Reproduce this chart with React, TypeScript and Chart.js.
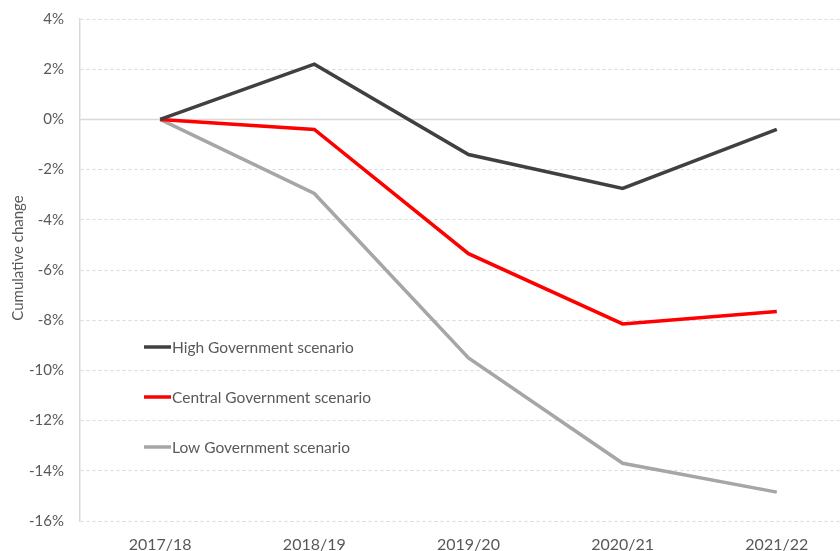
import React, { useEffect, useRef } from "react";
import { Chart, registerables } from "chart.js";

Chart.register(...registerables);

const categories = ["2017/18", "2018/19", "2019/20", "2020/21", "2021/22"];
const seriesLabels = ["High Government scenario", "Central Government scenario", "Low Government scenario"];
const highValues = [0, 2.2, -1.4, -2.75, -0.4];
const centralValues = [0, -0.4, -5.35, -8.15, -7.65];
const lowValues = [0, -2.95, -9.5, -13.7, -14.85];
const yTicks = [4, 2, 0, -2, -4, -6, -8, -10, -12, -14, -16];
const yTitle = "Cumulative change";

const FONT = "Lato, 'Open Sans', sans-serif";
const TEXT = "#595959";
const GRID = "#d9d9d9";

const zeroLinePlugin = {
  id: "zeroLine",
  beforeDatasetsDraw(chart: any) {
    const { ctx, chartArea, scales } = chart;
    const y = Math.round(scales.y.getPixelForValue(0)) + 0.5;
    ctx.save();
    ctx.strokeStyle = GRID;
    ctx.lineWidth = 1.5;
    ctx.setLineDash([]);
    ctx.beginPath();
    ctx.moveTo(chartArea.left, y);
    ctx.lineTo(chartArea.right, y);
    ctx.stroke();
    ctx.restore();
  },
};

const legendPlugin = {
  id: "insideLegend",
  afterDatasetsDraw(chart: any) {
    const { ctx } = chart;
    ctx.save();
    chart.data.datasets.forEach((ds: any, i: number) => {
      const y = 347 + i * 50;
      ctx.strokeStyle = ds.borderColor;
      ctx.lineWidth = 3.5;
      ctx.beginPath();
      ctx.moveTo(144, y);
      ctx.lineTo(171, y);
      ctx.stroke();
      ctx.fillStyle = TEXT;
      ctx.font = `15.5px ${FONT}`;
      ctx.textBaseline = "middle";
      ctx.textAlign = "left";
      ctx.fillText(ds.label, 172, y + 1);
    });
    // y axis title
    ctx.translate(18, 258);
    ctx.rotate(-Math.PI / 2);
    ctx.fillStyle = TEXT;
    ctx.font = `15px ${FONT}`;
    ctx.textAlign = "center";
    ctx.textBaseline = "middle";
    ctx.fillText(yTitle, 0, 0);
    ctx.restore();
  },
};

export default function App() {
  const ref = useRef<HTMLCanvasElement>(null);
  useEffect(() => {
    if (!ref.current) return;
    const toPoints = (vals: number[]) => vals.map((v, i) => ({ x: i, y: v }));
    const chart = new Chart(ref.current, {
      type: "line",
      data: {
        datasets: [
          { label: seriesLabels[0], data: toPoints(highValues), borderColor: "#404040", backgroundColor: "#404040" },
          { label: seriesLabels[1], data: toPoints(centralValues), borderColor: "#ff0000", backgroundColor: "#ff0000" },
          { label: seriesLabels[2], data: toPoints(lowValues), borderColor: "#a6a6a6", backgroundColor: "#a6a6a6" },
        ].map((d) => ({ ...d, borderWidth: 3.5, pointRadius: 0, tension: 0, fill: false })),
      },
      options: {
        animation: false,
        responsive: false,
        maintainAspectRatio: false,
        layout: { padding: { top: 19, right: 0, left: 0, bottom: 0 } },
        plugins: { legend: { display: false }, tooltip: { enabled: false }, title: { display: false } },
        scales: {
          x: {
            type: "linear",
            min: -0.52,
            max: 4.41,
            afterBuildTicks: (scale: any) => {
              scale.ticks = categories.map((_, i) => ({ value: i }));
            },
            afterFit: (scale: any) => {
              scale.height = 30;
              scale.paddingLeft = 0;
              scale.paddingRight = 0;
            },
            ticks: {
              callback: (v: any) => categories[v as number] ?? "",
              color: TEXT,
              font: { family: FONT, size: 16 },
              padding: 14,
              maxRotation: 0,
              autoSkip: false,
            },
            grid: { display: false, drawTicks: false },
            border: { display: false },
          },
          y: {
            min: -16,
            max: 4,
            afterBuildTicks: (scale: any) => {
              scale.ticks = yTicks.map((v) => ({ value: v }));
            },
            afterFit: (scale: any) => {
              scale.width = 80;
              scale.paddingTop = 0;
              scale.paddingBottom = 0;
            },
            ticks: {
              callback: (v: any) => `${v}%`,
              color: TEXT,
              font: { family: FONT, size: 15 },
              padding: 16,
            },
            grid: { color: GRID, drawTicks: false, lineWidth: 1 },
            border: { display: true, color: GRID, width: 1.5, dash: [3, 3] },
          },
        },
      },
      plugins: [zeroLinePlugin, legendPlugin],
    });
    return () => chart.destroy();
  }, []);
  return (
    <div style={{ position: "absolute", left: 0, top: 0, width: 840, height: 551, background: "#fff" }}>
      <canvas ref={ref} width={840} height={551} style={{ width: 840, height: 551 }} />
    </div>
  );
}
